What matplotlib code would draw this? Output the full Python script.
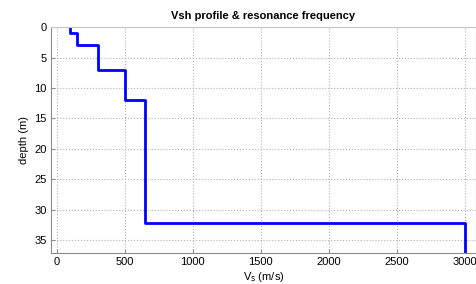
import numpy as np
import matplotlib
matplotlib.use('Agg')
import matplotlib.pyplot as plt

# layer model
layer_top = [0, 1, 3, 7, 12, 32.2]
vs = [100, 150, 300, 500, 650, 3000]
max_depth = 37.2

xticks = [0, 500, 1000, 1500, 2000, 2500, 3000]
yticks = [0, 5, 10, 15, 20, 25, 30, 35]

plt.rcParams['font.family'] = ['Liberation Sans', 'DejaVu Sans']

# staircase: vertical segment per layer, then step across at the boundary
bounds = layer_top + [max_depth]
xs = np.repeat(vs, 2)
ys = np.array([[bounds[i], bounds[i + 1]] for i in range(len(vs))]).ravel()

fig = plt.figure(figsize=(4.77, 2.84), dpi=100)
ax = fig.add_axes([0.107, 0.108, 0.891, 0.796])
ax.plot(xs, ys, color='#0000ff', linewidth=2.0)

ax.set_xlim(-42, 3083)
ax.set_ylim(max_depth, 0)
ax.set_xticks(xticks)
ax.set_yticks(yticks)
ax.grid(True, linestyle=':', color='#b0b0b0', linewidth=0.8)
ax.tick_params(direction='in', length=3, color='#909090', labelsize=8, pad=3)

for side in ['left', 'bottom']:
    ax.spines[side].set_color('#8c8c8c')
for side in ['top', 'right']:
    ax.spines[side].set_color('#c8c8c8')

ax.set_title('Vsh profile & resonance frequency', fontsize=8, fontweight='bold', pad=6)
ax.set_xlabel(r'V$_\mathrm{s}$ (m/s)', fontsize=8, labelpad=2)
ax.set_ylabel('depth (m)', fontsize=8, labelpad=4)

fig.savefig('out.png', dpi=100)
